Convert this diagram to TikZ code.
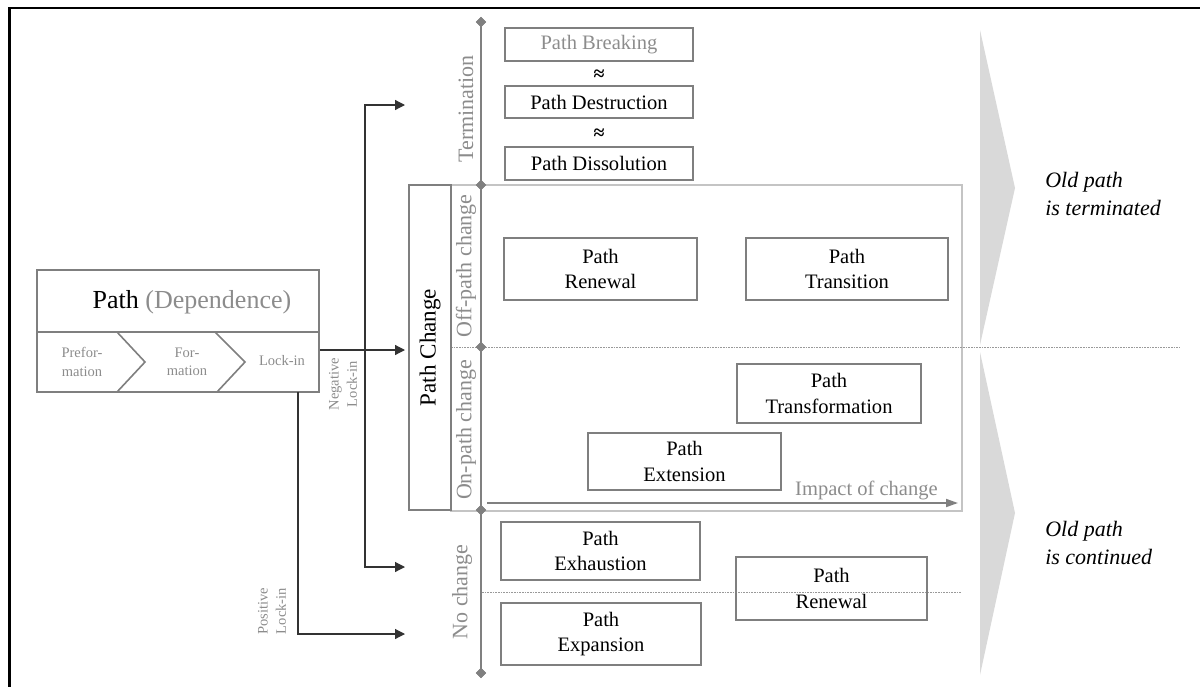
\documentclass[tikz,border=0pt]{standalone}
\usepackage{fontspec}
\setmainfont{Liberation Serif}
\usetikzlibrary{arrows.meta,shapes.geometric}

\definecolor{boxline}{HTML}{7F7F7F}
\definecolor{labgray}{HTML}{8C8C8C}
\definecolor{framegray}{HTML}{C4C4C4}
\definecolor{wedgegray}{HTML}{D9D9D9}
\definecolor{axisgray}{HTML}{808080}
\definecolor{wire}{HTML}{333333}

% box given by its two corners (in pixel units), text centred inside
\newcommand\pbx[7][pbox]{\node[#1, minimum width={(#5-#3)*0.75pt}, minimum height={(#6-#4)*0.75pt}]
  (#2) at ({(#3+#5)/2},{(#4+#6)/2}) {#7};}

\begin{document}
\begin{tikzpicture}[x=0.75pt,y=-0.75pt,
  pbox/.style={draw=boxline, line width=1.2pt, inner sep=0pt, align=center,
    font=\fontsize{15.4}{18.8}\selectfont},
  boxfont/.style={font=\fontsize{15.4}{18.8}\selectfont},
  smallgray/.style={text=labgray, align=center, inner sep=0pt,
    font=\fontsize{10.9}{13.6}\selectfont},
  sidelabel/.style={rotate=90, text=labgray, inner sep=0pt,
    font=\fontsize{16.5}{19}\selectfont},
  axdot/.style={diamond, fill=axisgray, inner sep=0pt, minimum size=8pt},
  wirearrow/.style={draw=wire, line width=0.9pt, -{Triangle[length=7.5pt,width=7.5pt]}},
  dotline/.style={draw=axisgray!80, line width=0.6pt, dash pattern=on 1.2pt off 0.8pt},
  outcome/.style={align=left, inner sep=0pt, anchor=west,
    font=\fontsize{16.5}{20.5}\selectfont\itshape}
]
\useasboundingbox (0,0) rectangle (1200,686);

% outer frame (only top and left edges fall inside the page)
\draw[line width=1.6pt, black] (9.5,720) -- (9.5,8) -- (1230,8);

% right-hand wedges
\fill[wedgegray] (980,30) -- (1015,188) -- (980,345) -- cycle;
\fill[wedgegray] (980,352) -- (1015,513) -- (980,675) -- cycle;

% change field frame
\pbx[draw=framegray, line width=1pt, inner sep=0pt]{field}{451}{185}{962}{511}{}

% dotted separators
\coordinate (sepA1) at (451,347);
\coordinate (sepA2) at (1180,347);
\coordinate (sepB1) at (482,592);
\coordinate (sepB2) at (961,592);
\draw[dotline] (sepA1) -- (sepA2);
\draw[dotline] (sepB1) -- (sepB2);

% vertical axis with diamond markers
\node[axdot] (d1) at (481,22) {};
\node[axdot] (d2) at (481,185) {};
\node[axdot] (d3) at (481,347) {};
\node[axdot] (d4) at (481,510) {};
\node[axdot] (d5) at (481,673) {};
\draw[axisgray, line width=1.1pt] (d1.center) -- (d5.center);
\foreach \d in {d1,d2,d3,d4,d5} \node[axdot] at (\d) {};

% impact arrow
\coordinate (impS) at (487,503);
\coordinate (impE) at (958,503);
\draw[axisgray, line width=1.3pt, -{Triangle[length=9pt,width=6pt]}] (impS) -- (impE);
\node[anchor=east, text=labgray, inner sep=0pt, boxfont] (impact) at (938,490) {Impact of change};

% side labels
\node[sidelabel] (lterm) at (466,109) {Termination};
\node[sidelabel] (loff) at (466,266) {Off-path change};
\node[sidelabel] (lon) at (466,430) {On-path change};
\node[sidelabel] (lno) at (462,592) {No change};

% path change box
\pbx[draw=boxline, line width=1.2pt, inner sep=0pt]{chg}{409}{185}{451}{510}{}
\node[rotate=90, inner sep=0pt, font=\fontsize{17.3}{20}\selectfont] (chgtxt) at (chg.center) {Path Change};

% termination boxes
\pbx{brk}{505}{28}{693}{61}{\textcolor{labgray}{Path Breaking}}
\pbx{dst}{505}{86}{693}{118}{Path Destruction}
\pbx{dis}{505}{147}{693}{180}{Path Dissolution}
\node[inner sep=0pt, font=\fontsize{15}{15}\bfseries] (ap1) at (599,75) {≈};
\node[inner sep=0pt, font=\fontsize{15}{15}\bfseries] (ap2) at (599,134) {≈};

% change boxes
\pbx{ren1}{504}{238}{697}{300}{Path\\Renewal}
\pbx{trn}{746}{238}{948}{300}{Path\\Transition}
\pbx{tfm}{737}{364}{921}{423}{Path\\Transformation}
\pbx{ext}{588}{433}{781}{490}{Path\\Extension}

% no-change boxes
\pbx{exh}{501}{522}{700}{580}{Path\\Exhaustion}
\pbx{exp}{501}{603}{701}{665}{Path\\Expansion}
\pbx{ren2}{736}{557}{927}{620}{Path\\Renewal}

% path dependence block
\pbx{deptop}{37}{270}{319}{332}{}
\pbx{stages}{37}{332}{319}{392}{}
\node[inner sep=0pt, font=\fontsize{19.5}{22}\selectfont] (deptitle) at (192,302)
  {Path \textcolor{labgray}{(Dependence)}};
\draw[boxline, line width=1.2pt] (117,332) -- (145,362) -- (117,392);
\draw[boxline, line width=1.2pt] (215,332) -- (245,362) -- (217,392);
\node[smallgray] (pre) at (82,362) {Prefor-\\mation};
\node[smallgray] (for) at (187,362) {For-\\mation};
\node[smallgray] (lock) at (282,361) {Lock-in};

% lock-in connectors
\coordinate (jn) at (365,350);
\coordinate (tipTerm) at (405,105);
\coordinate (tipChg) at (405,350);
\coordinate (tipNo) at (405,567);
\coordinate (posTop) at (298,392);
\coordinate (tipPos) at (405,634);
\draw[wirearrow] (stages.east |- jn) -- (tipChg);
\draw[wirearrow] (jn) |- (tipTerm);
\draw[wirearrow] (jn) |- (tipNo);
\draw[wirearrow] (posTop) |- (tipPos);
\node[smallgray, rotate=90] (neg) at (343,384) {Negative\\Lock-in};
\node[smallgray, rotate=90] (pos) at (272,611) {Positive\\Lock-in};

% outcomes
\node[outcome] (oterm) at (1045,194) {Old path\\is terminated};
\node[outcome] (ocont) at (1045,543) {Old path\\is continued};
\end{tikzpicture}
\end{document}
